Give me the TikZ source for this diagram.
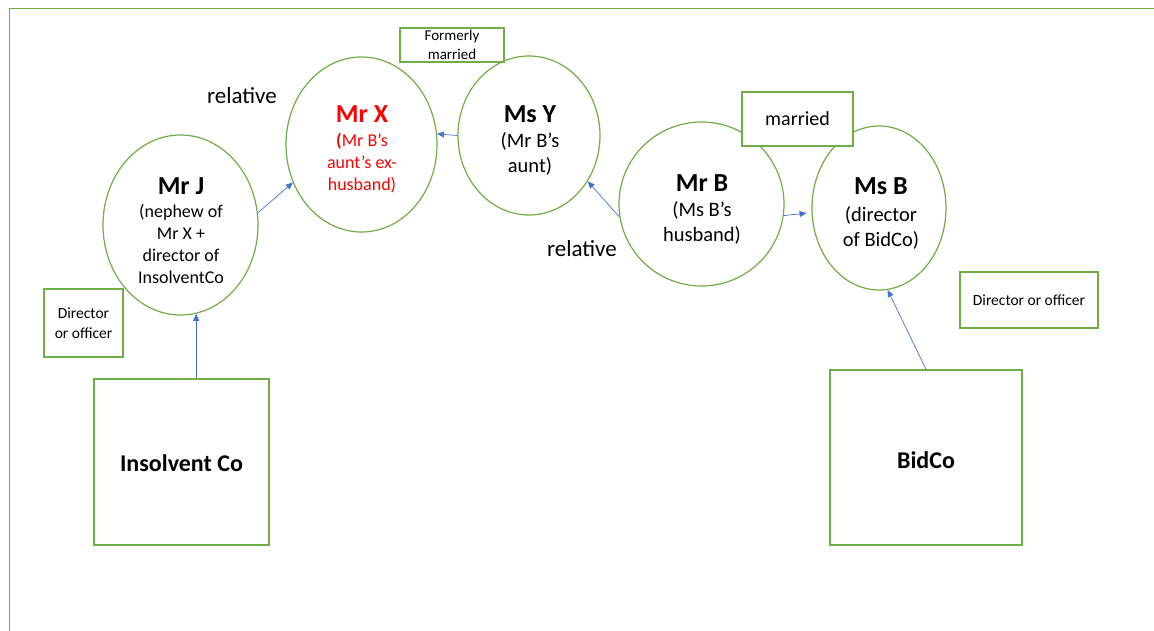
\documentclass[tikz,border=0pt]{standalone}
\usepackage{fontspec}
\setmainfont{Carlito}
\usetikzlibrary{shapes.geometric,arrows.meta}
\definecolor{grn}{HTML}{70AD47}
\definecolor{blu}{HTML}{4472C4}
\definecolor{redx}{HTML}{FF0000}
\newcommand{\ttlfont}{\fontsize{26}{28}\selectfont\bfseries}
\tikzset{
 person/.style={ellipse, draw=grn, line width=1.2pt, inner sep=0pt},
 ptext/.style={anchor=north, inner sep=0pt, align=center},
 smalltxt/.style={font=\fontsize{18}{22}\selectfont},
 bigtxt/.style={font=\fontsize{20.5}{25}\selectfont},
 tagbox/.style={rectangle, draw=grn, line width=1.5pt, fill=white, inner sep=0pt, align=center},
 company/.style={rectangle, draw=grn, line width=1.5pt, inner sep=0pt, align=center, font=\fontsize{24}{28}\selectfont\bfseries},
 arr/.style={draw=blu, line width=0.7pt, -{Triangle[length=7pt,width=6pt]}},
 rellabel/.style={inner sep=0pt, font=\fontsize{23}{27}\selectfont}
}
\begin{document}
\begin{tikzpicture}[x=1pt,y=-1pt]
\useasboundingbox (0,0) rectangle (1154,631);
\draw[grn, line width=1pt] (9,631) -- (9,9) -- (1154,9);
% people
\node[person, minimum width=151pt, minimum height=175pt] (mrx) at (361.5,144.5) {};
\node[ptext, smalltxt, text=redx] (mrxt) at (362,105)
 {{\ttlfont Mr X}\\[2.5pt]\textbf{(}Mr B’s\\aunt’s ex-\\husband)};
\node[person, minimum width=142pt, minimum height=159pt] (msy) at (529,135.5) {};
\node[ptext, bigtxt] (msyt) at (530,105)
 {{\ttlfont Ms Y}\\(Mr B’s\\aunt)};
\node[person, minimum width=155pt, minimum height=180pt] (mrj) at (180.5,225) {};
\node[ptext, smalltxt] (mrjt) at (181,177)
 {{\ttlfont Mr J}\\[1pt](nephew of\\Mr X +\\director of\\InsolventCo};
\node[person, minimum width=165pt, minimum height=164pt] (mrb) at (701.5,204) {};
\node[ptext, bigtxt] (mrbt) at (702,174)
 {{\ttlfont Mr B}\\(Ms B’s\\husband)};
\node[person, minimum width=134pt, minimum height=164pt] (msb) at (879,208) {};
\node[ptext, bigtxt] (msbt) at (881,177)
 {{\ttlfont Ms B}\\[2pt](director\\of BidCo)};
% tag boxes
\node[tagbox, minimum width=104pt, minimum height=34pt, font=\fontsize{15}{18.5}\selectfont] (fm) at (452,45) {Formerly\\married};
\node[tagbox, minimum width=111pt, minimum height=54pt, font=\fontsize{20}{24}\selectfont] (mar) at (797.5,119) {married};
\node[tagbox, minimum width=79pt, minimum height=68pt, font=\fontsize{15.5}{20}\selectfont] (dol) at (83.5,323) {Director\\or officer};
\node[tagbox, minimum width=138pt, minimum height=56pt, font=\fontsize{15.5}{20}\selectfont] (dor) at (1029,300) {Director or officer};
% companies
\node[company, minimum width=175pt, minimum height=166pt] (insco) at (181.5,462) {\raisebox{-1pt}[\height][0pt]{Insolvent Co}};
\node[company, minimum width=192pt, minimum height=175pt] (bidco) at (926,457.5) {\raisebox{-3pt}[\height][0pt]{BidCo}};
% relative labels
\node[rellabel] (rel1) at (242,96) {relative};
\node[rellabel] (rel2) at (582,249) {relative};
% connectors
\draw[arr] (mrj.-80 |- insco.north) -- (mrj.-80);
\draw[arr] (mrj.9) -- (mrx.209);
\draw[arr] (msy.180) -- (mrx.8);
\draw[arr] (mrb.189) -- (msy.-38);
\draw[arr, shorten >=5pt] (mrb.-8) -- (msb.184);
\draw[arr] (bidco.north) -- (msb.-84);
\end{tikzpicture}
\end{document}
